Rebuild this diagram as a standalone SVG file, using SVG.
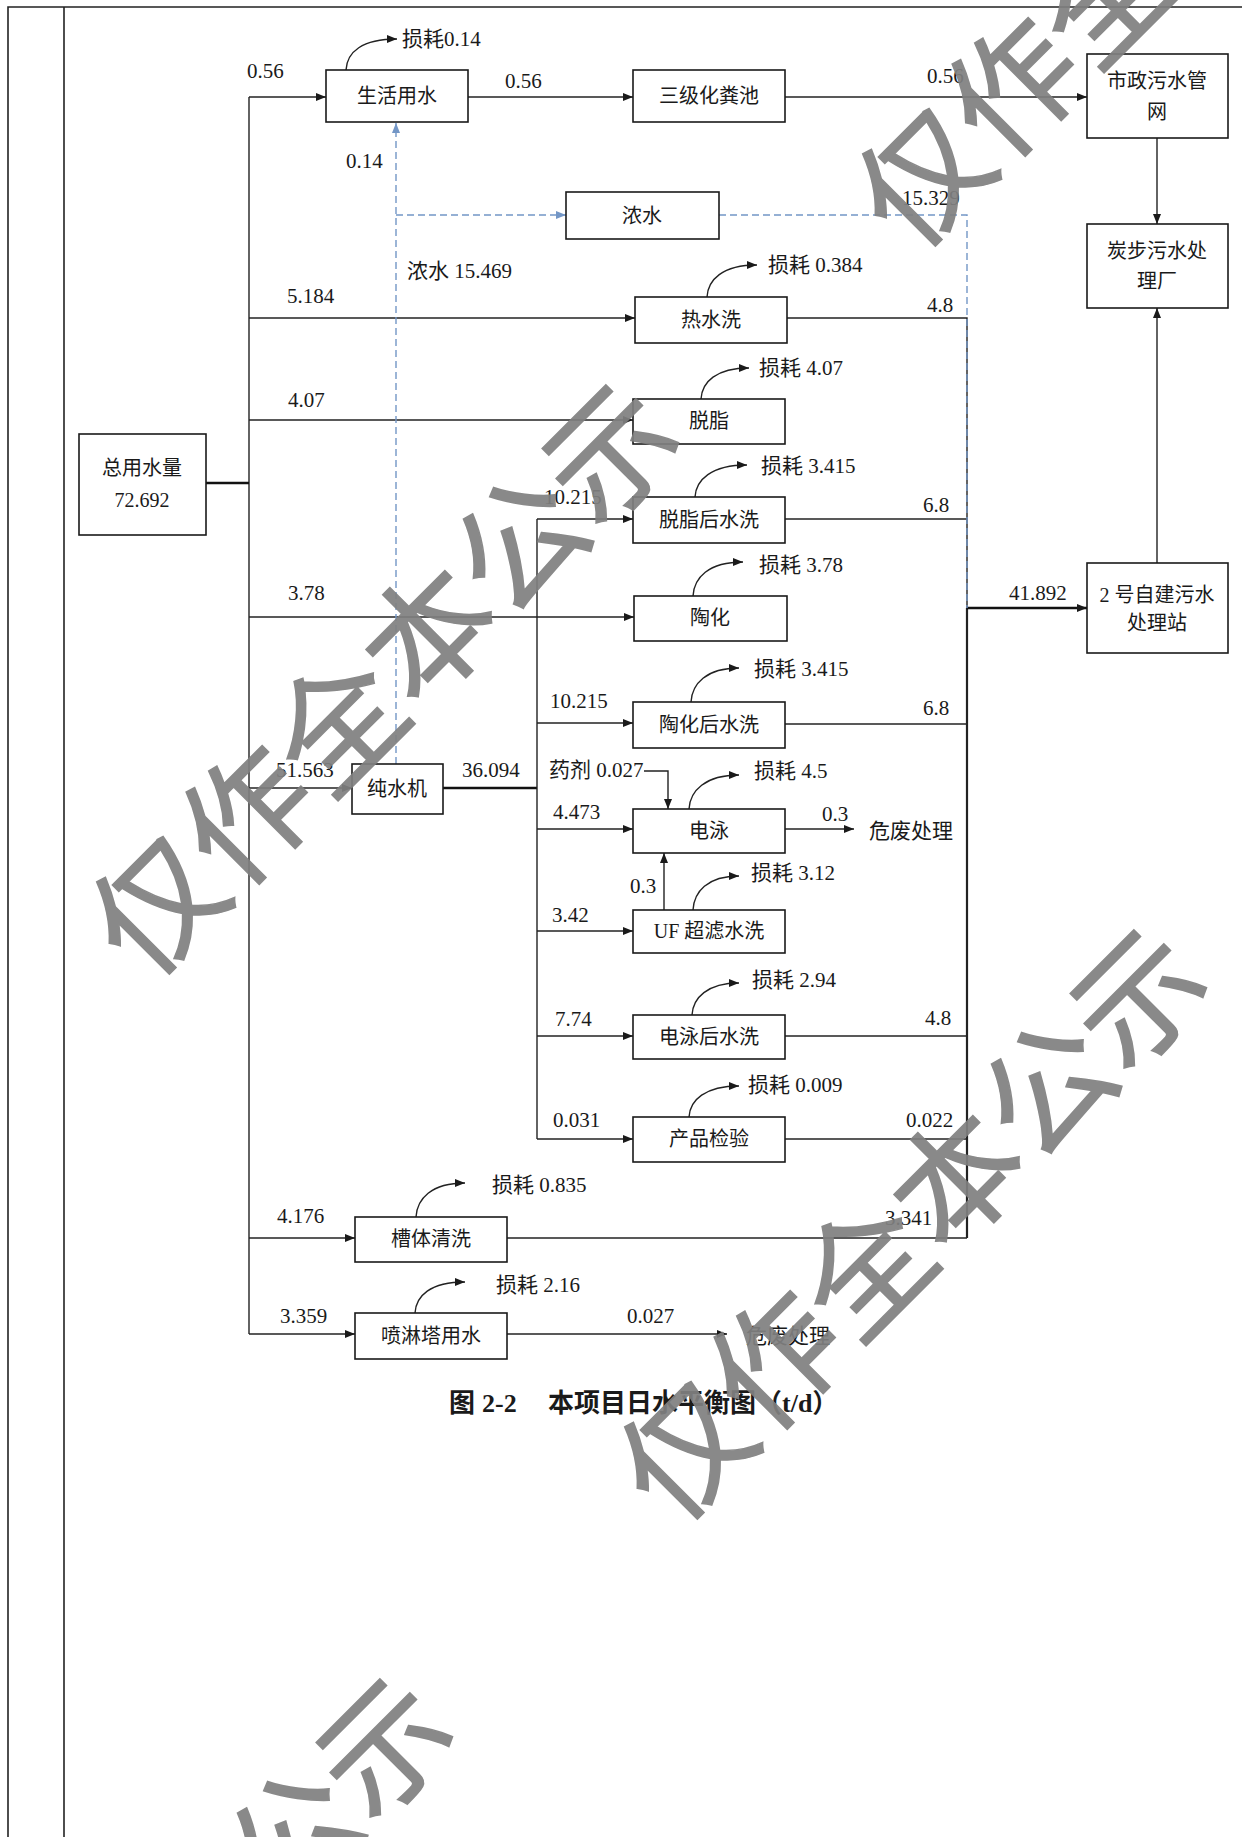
<svg xmlns="http://www.w3.org/2000/svg" width="1242" height="1837" viewBox="0 0 1242 1837">
<defs>
<marker id="ah" markerUnits="userSpaceOnUse" markerWidth="10" markerHeight="8" refX="10" refY="4" orient="auto"><path d="M0,0 L10,4 L0,8 z" fill="#1a1a1a"/></marker>
<marker id="ahb" markerUnits="userSpaceOnUse" markerWidth="10" markerHeight="8" refX="10" refY="4" orient="auto"><path d="M0,0 L10,4 L0,8 z" fill="#7396c6"/></marker>
</defs>
<style>
.box{fill:#fff;stroke:#1a1a1a;stroke-width:1.6}
.ln{fill:none;stroke:#222;stroke-width:1.4}
.thk{fill:none;stroke:#111;stroke-width:2.6}
.dash{fill:none;stroke:#7396c6;stroke-width:1.4;stroke-dasharray:7 4}
.frame{fill:none;stroke:#222;stroke-width:1.6}
text{font-family:"Liberation Serif","Noto Sans CJK SC",serif;fill:#1a1a1a}
.t{font-size:21px}
.b{font-size:20px;text-anchor:middle}
.cap{font-size:26px;font-weight:bold}
.wm{font-family:"Noto Sans CJK SC",sans-serif;font-size:128px;fill:#808080;stroke:#808080;stroke-width:1.5;opacity:0.92}
</style>
<rect width="1242" height="1837" fill="#fff"/>
<g id="frame">
<path class="frame" d="M8,1837 V7 H1242 M64,7 V1837"/>
</g>
<g id="connectors">
<path class="ln" d="M249,97 V1334"/>
<path class="ln" d="M249,97 H326" marker-end="url(#ah)"/>
<path class="ln" d="M468,97 H633" marker-end="url(#ah)"/>
<path class="ln" d="M785,97 H1087" marker-end="url(#ah)"/>
<path class="ln" d="M1157,138 V224" marker-end="url(#ah)"/>
<path class="ln" d="M1157,563 V308" marker-end="url(#ah)"/>
<path class="ln" d="M249,318 H635" marker-end="url(#ah)"/>
<path class="ln" d="M249,420 H633" marker-end="url(#ah)"/>
<path class="thk" d="M206,483 H249"/>
<path class="ln" d="M249,617 H634" marker-end="url(#ah)"/>
<path class="ln" d="M249,788 H352" marker-end="url(#ah)"/>
<path class="thk" d="M443,788 H537"/>
<path class="ln" d="M537,519 V1139"/>
<path class="ln" d="M537,519 H633" marker-end="url(#ah)"/>
<path class="ln" d="M537,723 H633" marker-end="url(#ah)"/>
<path class="ln" d="M537,829 H633" marker-end="url(#ah)"/>
<path class="ln" d="M537,931 H633" marker-end="url(#ah)"/>
<path class="ln" d="M537,1036 H633" marker-end="url(#ah)"/>
<path class="ln" d="M537,1139 H633" marker-end="url(#ah)"/>
<path class="ln" d="M644,771 H668 V809" marker-end="url(#ah)"/>
<path class="ln" d="M785,829 H854" marker-end="url(#ah)"/>
<path class="ln" d="M664,910 V853" marker-end="url(#ah)"/>
<path class="ln" d="M249,1238 H355" marker-end="url(#ah)"/>
<path class="ln" d="M249,1334 H355" marker-end="url(#ah)"/>
<path class="ln" d="M507,1334 H727" marker-end="url(#ah)"/>
<path class="ln" d="M787,318 H967 V608"/>
<path class="ln" d="M785,519 H967"/>
<path class="ln" d="M785,724 H967"/>
<path class="ln" d="M785,1036 H967"/>
<path class="ln" d="M785,1139 H967"/>
<path class="ln" d="M507,1238 H967"/>
<path class="ln" d="M967,608 V1238" style="stroke-width:2.2"/>
<path class="thk" d="M967,608 H1087" marker-end="url(#ah)"/>
<path class="dash" d="M396,764 V123" marker-end="url(#ahb)"/>
<path class="dash" d="M396,215 H566" marker-end="url(#ahb)"/>
<path class="dash" d="M719,215 H967 V608"/>
<path class="ln" d="M346,70 C347,52 362,39 397,39" marker-end="url(#ah)"/>
<path class="ln" d="M707,297 C708,280 722,265 757,265" marker-end="url(#ah)"/>
<path class="ln" d="M701,399 C702,382 716,368 749,368" marker-end="url(#ah)"/>
<path class="ln" d="M695,497 C696,480 711,465 747,465" marker-end="url(#ah)"/>
<path class="ln" d="M693,596 C694,578 708,562 743,562" marker-end="url(#ah)"/>
<path class="ln" d="M691,702 C692,684 706,668 739,668" marker-end="url(#ah)"/>
<path class="ln" d="M689,809 C690,791 705,775 739,775" marker-end="url(#ah)"/>
<path class="ln" d="M693,910 C694,892 707,876 739,876" marker-end="url(#ah)"/>
<path class="ln" d="M692,1015 C693,998 707,983 739,983" marker-end="url(#ah)"/>
<path class="ln" d="M689,1117 C690,1100 705,1086 739,1086" marker-end="url(#ah)"/>
<path class="ln" d="M416,1217 C417,1199 431,1183 465,1183" marker-end="url(#ah)"/>
<path class="ln" d="M415,1313 C416,1296 430,1282 465,1282" marker-end="url(#ah)"/>
</g>
<g id="n_total"><rect class="box" x="79" y="434" width="127" height="101"/><text class="b" x="142" y="475">总用水量</text><text class="b" x="142" y="507">72.692</text></g>
<g id="n_life"><rect class="box" x="326" y="70" width="142" height="52"/><text class="b" x="397" y="103">生活用水</text></g>
<g id="n_septic"><rect class="box" x="633" y="70" width="152" height="52"/><text class="b" x="709" y="103">三级化粪池</text></g>
<g id="n_muni"><rect class="box" x="1087" y="54" width="141" height="84"/><text class="b" x="1157" y="88">市政污水管</text><text class="b" x="1157" y="119">网</text></g>
<g id="n_tanbu"><rect class="box" x="1087" y="224" width="141" height="84"/><text class="b" x="1157" y="258">炭步污水处</text><text class="b" x="1157" y="288">理厂</text></g>
<g id="n_conc"><rect class="box" x="566" y="192" width="153" height="47"/><text class="b" x="642" y="223">浓水</text></g>
<g id="n_hot"><rect class="box" x="635" y="297" width="152" height="46"/><text class="b" x="711" y="327">热水洗</text></g>
<g id="n_degrease"><rect class="box" x="633" y="399" width="152" height="45"/><text class="b" x="709" y="428">脱脂</text></g>
<g id="n_degrinse"><rect class="box" x="633" y="497" width="152" height="46"/><text class="b" x="709" y="527">脱脂后水洗</text></g>
<g id="n_ceram"><rect class="box" x="634" y="596" width="153" height="45"/><text class="b" x="710" y="625">陶化</text></g>
<g id="n_ceramrinse"><rect class="box" x="633" y="702" width="152" height="46"/><text class="b" x="709" y="732">陶化后水洗</text></g>
<g id="n_station"><rect class="box" x="1087" y="563" width="141" height="90"/><text class="b" x="1157" y="602">2 号自建污水</text><text class="b" x="1157" y="630">处理站</text></g>
<g id="n_pure"><rect class="box" x="352" y="764" width="91" height="50"/><text class="b" x="397" y="796">纯水机</text></g>
<g id="n_ep"><rect class="box" x="633" y="809" width="152" height="44"/><text class="b" x="709" y="838">电泳</text></g>
<g id="n_uf"><rect class="box" x="633" y="910" width="152" height="43"/><text class="b" x="709" y="938">UF 超滤水洗</text></g>
<g id="n_eprinse"><rect class="box" x="633" y="1015" width="152" height="44"/><text class="b" x="709" y="1044">电泳后水洗</text></g>
<g id="n_inspect"><rect class="box" x="633" y="1117" width="152" height="45"/><text class="b" x="709" y="1146">产品检验</text></g>
<g id="n_tank"><rect class="box" x="355" y="1217" width="152" height="45"/><text class="b" x="431" y="1246">槽体清洗</text></g>
<g id="n_spray"><rect class="box" x="355" y="1313" width="152" height="46"/><text class="b" x="431" y="1343">喷淋塔用水</text></g>
<g id="n_haz1"><text class="t" x="869" y="838">危废处理</text></g>
<g id="n_haz2"><text class="t" x="746" y="1343">危废处理</text></g>
<g id="labels">
<text class="t" x="402" y="46">损耗0.14</text>
<text class="t" x="768" y="272">损耗 0.384</text>
<text class="t" x="759" y="375">损耗 4.07</text>
<text class="t" x="761" y="473">损耗 3.415</text>
<text class="t" x="759" y="572">损耗 3.78</text>
<text class="t" x="754" y="676">损耗 3.415</text>
<text class="t" x="754" y="778">损耗 4.5</text>
<text class="t" x="751" y="880">损耗 3.12</text>
<text class="t" x="752" y="987">损耗 2.94</text>
<text class="t" x="748" y="1092">损耗 0.009</text>
<text class="t" x="492" y="1192">损耗 0.835</text>
<text class="t" x="496" y="1292">损耗 2.16</text>
<text class="t" x="247" y="78">0.56</text>
<text class="t" x="505" y="88">0.56</text>
<text class="t" x="927" y="83">0.56</text>
<text class="t" x="346" y="168">0.14</text>
<text class="t" x="407" y="278">浓水 15.469</text>
<text class="t" x="902" y="205">15.329</text>
<text class="t" x="287" y="303">5.184</text>
<text class="t" x="927" y="312">4.8</text>
<text class="t" x="288" y="407">4.07</text>
<text class="t" x="544" y="504">10.215</text>
<text class="t" x="923" y="512">6.8</text>
<text class="t" x="288" y="600">3.78</text>
<text class="t" x="1009" y="600">41.892</text>
<text class="t" x="550" y="708">10.215</text>
<text class="t" x="923" y="715">6.8</text>
<text class="t" x="276" y="777">51.563</text>
<text class="t" x="462" y="777">36.094</text>
<text class="t" x="549" y="777">药剂 0.027</text>
<text class="t" x="553" y="819">4.473</text>
<text class="t" x="822" y="821">0.3</text>
<text class="t" x="630" y="893">0.3</text>
<text class="t" x="552" y="922">3.42</text>
<text class="t" x="555" y="1026">7.74</text>
<text class="t" x="925" y="1025">4.8</text>
<text class="t" x="553" y="1127">0.031</text>
<text class="t" x="906" y="1127">0.022</text>
<text class="t" x="277" y="1223">4.176</text>
<text class="t" x="885" y="1225">3.341</text>
<text class="t" x="280" y="1323">3.359</text>
<text class="t" x="627" y="1323">0.027</text>
</g>
<g id="caption">
<text class="cap" y="1412"><tspan x="449">图</tspan><tspan x="482">2-2</tspan><tspan x="548">本项目日水平衡图（t/d）</tspan></text>
</g>
<g id="watermark">
<text class="wm" transform="translate(922,176) rotate(-45)" x="-64" y="49">仅作全本公示</text>
<text class="wm" transform="translate(156,904) rotate(-45)" x="-64" y="49">仅作全本公示</text>
<text class="wm" transform="translate(684,1449) rotate(-45)" x="-64" y="49">仅作全本公示</text>
<text class="wm" transform="translate(-70,2198) rotate(-45)" x="-64" y="49">仅作全本公示</text>
</g>
</svg>
